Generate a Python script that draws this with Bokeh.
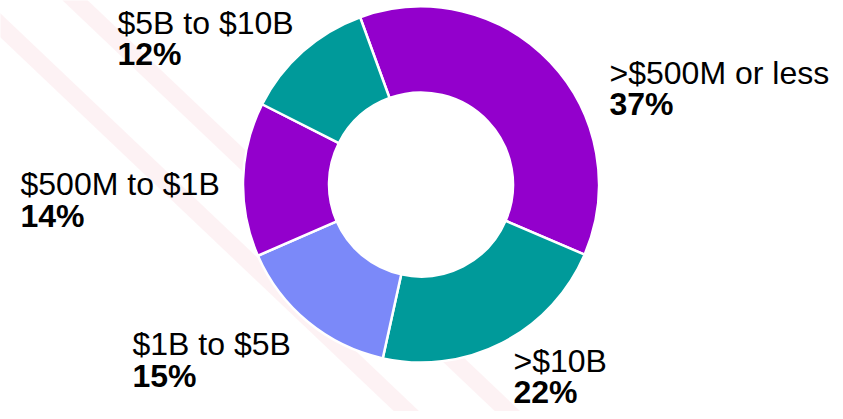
import math
from bokeh.plotting import figure
from bokeh.models import ColumnDataSource, Range1d
from bokeh.core.properties import value
from bokeh.embed import file_html
from bokeh.resources import INLINE

# ---------------- data ----------------
categories = [">$500M or less", ">$10B", "$1B to $5B", "$500M to $1B", "$5B to $10B"]
shares = [37, 22, 15, 14, 12]
pct_labels = ["37%", "22%", "15%", "14%", "12%"]
colors = ["#9300CC", "#009A9A", "#7B89F9", "#9300CC", "#009A9A"]

# ---------------- layout (canvas pixel coordinates, y down) ----------------
W, H = 835, 411


def px(X):
    return X


def py(Y):
    return H - Y


center_page = (420.5, 184)
outer_r, inner_r = 178, 92
start_deg = -20  # clockwise from 12 o'clock

label_x_page = [609, 513, 132, 20, 117]
line1_y_page = [72.5, 360, 343.5, 183.5, 22.5]
line2_y_page = [103.5, 391, 375.5, 215.5, 53.5]

# faint decorative watermark stripes: (slope, offset_top, offset_bottom)
stripes = [(0.95, 13, 37), (0.95, -83, -59)]

p = figure(width=W, height=H, x_range=Range1d(0, W), y_range=Range1d(0, H),
           output_backend="svg", toolbar_location=None, min_border=0)
p.axis.visible = False
p.grid.visible = False
p.outline_line_color = None
p.background_fill_color = "white"
p.border_fill_color = "white"

# watermark stripes
for slope, c0, c1 in stripes:
    xa, xb = -20, 620
    xs = [px(xa), px(xb), px(xb), px(xa)]
    ys = [py(slope * xa + c0), py(slope * xb + c0), py(slope * xb + c1), py(slope * xa + c1)]
    p.patch(xs, ys, fill_color="#F5C6CC", fill_alpha=0.22, line_color=None)

# wedges
total = float(sum(shares))
starts, ends = [], []
cum = start_deg
for s in shares:
    a0 = cum
    a1 = cum + s / total * 360.0
    starts.append(math.radians(90 - a0))
    ends.append(math.radians(90 - a1))
    cum = a1

src = ColumnDataSource(dict(cat=categories, start=starts, end=ends, color=colors))
p.annular_wedge(x=px(center_page[0]), y=py(center_page[1]),
                inner_radius=inner_r, outer_radius=outer_r,
                inner_radius_units="screen", outer_radius_units="screen",
                start_angle="start", end_angle="end", direction="clock",
                fill_color="color", line_color="white", line_width=2.5, source=src)

# labels
lab1 = ColumnDataSource(dict(x=[px(v) for v in label_x_page], y=[py(v) for v in line1_y_page], t=categories))
lab2 = ColumnDataSource(dict(x=[px(v) for v in label_x_page], y=[py(v) for v in line2_y_page], t=pct_labels))
p.text(x="x", y="y", text="t", source=lab1, text_font=value("Liberation Sans"),
       text_font_size="32px", text_align="left", text_baseline="alphabetic", text_color="#000000")
p.text(x="x", y="y", text="t", source=lab2, text_font=value("Liberation Sans"),
       text_font_size="32px", text_font_style="bold", text_align="left",
       text_baseline="alphabetic", text_color="#000000")

open("out.html", "w").write(file_html(p, INLINE))
